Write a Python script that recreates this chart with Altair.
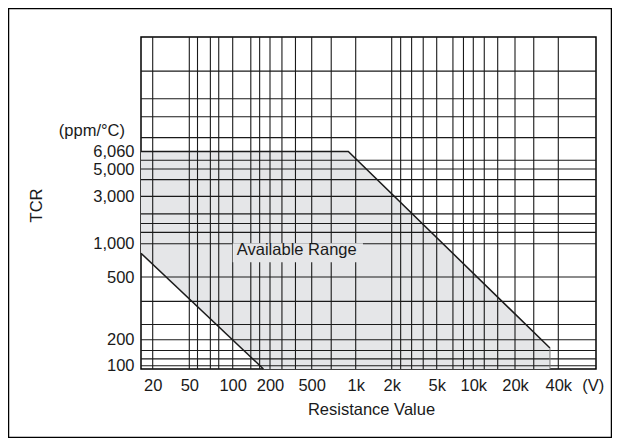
import altair as alt
import pandas as pd

# ---------------- data ----------------
x_ticks = [20, 50, 100, 200, 500, 1000, 2000, 5000, 10000, 20000, 40000]
x_unit_tick = [58000]          # position of the "(V)" unit label
y_ticks = [100, 200, 500, 1000, 3000, 5000, 6060]

x_grid = [20, 50, 57, 70, 80, 100, 140, 165, 200, 260, 350, 500, 680, 1000,
          2000, 2400, 3000, 3800, 5000, 6800, 8300, 10000, 12000, 15000,
          20000, 27000, 40000]
y_grid = [100, 120, 150, 200, 250, 350, 500, 1000, 1300, 1600, 2000, 3000,
          4100, 5000, 5500, 7000, 8700, 10500, 14000]

# available range region
area_x = [15, 177, 890, 35000]
area_top = [6060, 6060, 6060, 160]
area_bottom = [820, 95, 95, 95]

upper_x = [15, 890, 35000]
upper_y = [6060, 6060, 160]
lower_x = [15, 177]
lower_y = [820, 95]
right_x = [35000, 35000]
right_y = [160, 95]

label_text = ["Available Range"]
label_x = [360]
label_y = [880]
label_box_x = [100]
label_box_x2 = [1150]
label_box_y = [1010]
label_box_y2 = [680]

unit_text = ["(ppm/°C)"]
unit_y = [7500]

# ---------------- scales (chart's non-uniform printed axes) ----------------
W, H = 455, 332
x_scale = alt.Scale(
    type="log", nice=False,
    domain=[15, 20, 50, 100, 200, 500, 1000, 2000, 5000, 10000, 20000, 40000, 60000],
    range=[0, 11.7, 48.3, 91.7, 129, 170.7, 214.7, 250.7, 295.7, 332.3, 374, 417.3, W],
)
y_scale = alt.Scale(
    type="log", nice=False,
    domain=[95, 100, 200, 500, 1000, 3000, 5000, 6060, 20000],
    range=[H, 328.7, 302.7, 240, 206.7, 159.4, 132, 114.4, 0],
)

FONT = "Liberation Sans"
INK = "#1a1a1a"
FILL = "#e5e6e8"
FS = 16.5

area_df = pd.DataFrame({"x": area_x, "top": area_top, "bottom": area_bottom})
upper_df = pd.DataFrame({"x": upper_x, "y": upper_y, "o": range(len(upper_x))})
lower_df = pd.DataFrame({"x": lower_x, "y": lower_y, "o": range(len(lower_x))})
right_df = pd.DataFrame({"x": right_x, "y": right_y, "o": range(len(right_x))})
vgrid_df = pd.DataFrame({"x": x_grid})
hgrid_df = pd.DataFrame({"y": y_grid})
box_df = pd.DataFrame({"x": label_box_x, "x2": label_box_x2,
                       "y": label_box_y, "y2": label_box_y2})
text_df = pd.DataFrame({"x": label_x, "y": label_y, "t": label_text})
unit_df = pd.DataFrame({"y": unit_y, "t": unit_text})
frame_df = pd.DataFrame({"a": [0]})

x_axis = alt.Axis(
    values=x_ticks + x_unit_tick,
    labelExpr="datum.value > 50000 ? '(V)' : datum.value >= 1000 ? (datum.value / 1000) + 'k' : '' + datum.value",
    labelOverlap=False, labelFlush=False, labelBound=False,
    domain=False, ticks=False, tickSize=0, grid=False,
    labelPadding=8, labelFontSize=FS, labelFont=FONT, labelColor=INK,
    title="Resistance Value", titleFont=FONT, titleFontSize=FS,
    titleFontWeight="normal", titleColor=INK,
    titleX=230, titleY=40, titleBaseline="middle", titleAlign="center",
)
y_axis = alt.Axis(
    values=y_ticks,
    labelExpr="format(datum.value, ',')",
    labelOverlap=False, labelFlush=False, labelBound=False,
    domain=False, ticks=False, tickSize=0, grid=False,
    labelPadding=7, labelFontSize=FS, labelFont=FONT, labelColor=INK,
    title="TCR", titleFont=FONT, titleFontSize=FS, titleFontWeight="normal",
    titleColor=INK, titleAngle=270, titleX=-105, titleY=168,
    titleBaseline="middle", titleAlign="center",
)

def X(field):
    return alt.X(field, scale=x_scale, axis=x_axis)

def Y(field):
    return alt.Y(field, scale=y_scale, axis=y_axis)

area = alt.Chart(area_df).mark_area(color=FILL, opacity=1).encode(
    x=X("x:Q"), y=Y("top:Q"), y2="bottom:Q",
)

vgrid = alt.Chart(vgrid_df).mark_rule(color=INK, strokeWidth=1.1).encode(
    x=X("x:Q"), y=alt.value(0), y2=alt.value(H),
)
hgrid = alt.Chart(hgrid_df).mark_rule(color=INK, strokeWidth=1.1).encode(
    y=Y("y:Q"), x=alt.value(0), x2=alt.value(W),
)

box = alt.Chart(box_df).mark_rect(color=FILL, opacity=1).encode(
    x=X("x:Q"), x2="x2:Q", y=Y("y:Q"), y2="y2:Q",
)
label = alt.Chart(text_df).mark_text(
    font=FONT, fontSize=FS, color=INK, align="center", baseline="middle"
).encode(x=X("x:Q"), y=Y("y:Q"), text="t:N")

def outline(df, color, width):
    return alt.Chart(df).mark_line(color=color, strokeWidth=width).encode(
        x=X("x:Q"), y=Y("y:Q"), order="o:Q",
    )

upper = outline(upper_df, INK, 1.5)
lower = outline(lower_df, INK, 1.5)
right = outline(right_df, "#777777", 1)

unit = alt.Chart(unit_df).mark_text(
    font=FONT, fontSize=FS, color=INK, align="right", baseline="middle"
).encode(x=alt.value(-16), y=Y("y:Q"), text="t:N")

frame = alt.Chart(frame_df).mark_rect(filled=False, stroke="#000", strokeWidth=1.5).encode(
    x=alt.value(-132.5), x2=alt.value(W + 15.5),
    y=alt.value(-28.5), y2=alt.value(H + 68.5),
)

chart = alt.layer(area, vgrid, hgrid, box, label, upper, lower, right, unit, frame).properties(
    width=W, height=H,
    background="white",
    padding={"left": 133, "top": 29, "right": 16, "bottom": 69},
    autosize=alt.AutoSizeParams(type="none"),
).configure_view(stroke="#000", strokeWidth=1.5)

chart.save("out.html", embed_options={"renderer": "svg", "actions": False})
